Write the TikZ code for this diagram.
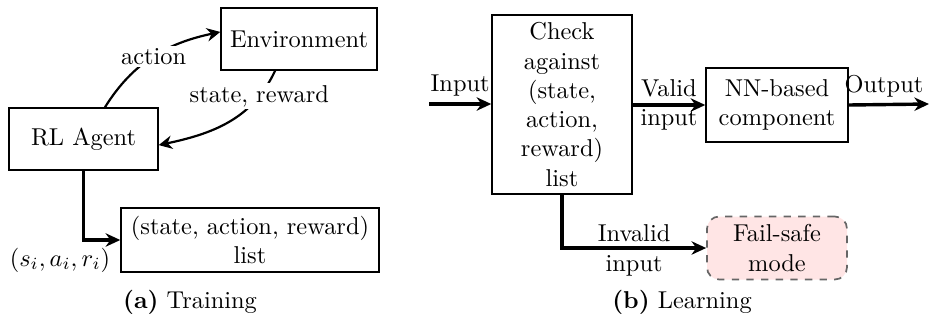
\documentclass[tikz,border=0pt]{standalone}
\usetikzlibrary{arrows.meta,calc}
\begin{document}
\begin{tikzpicture}[x=0.41pt,y=0.41pt,
  box/.style={draw,line width=0.6pt,align=center,inner sep=0pt},
  thickarrow/.style={line width=1.4pt,-{Stealth[length=6pt,width=5.5pt]}},
  thinarrow/.style={line width=0.9pt,-{Stealth[length=5.5pt,width=5.5pt,inset=1.8pt]}},
  lbl/.style={fill=white,inner sep=1pt,align=center},
  failbox/.style={draw=black!60,dashed,line width=0.7pt,rounded corners=5pt,fill=red!10,align=center,inner sep=0pt}]
\useasboundingbox (0,0) rectangle (929,323);
% (a) Training
\node[box,minimum width=156*0.41pt,minimum height=62*0.41pt] (env) at (299,284) {Environment};
\node[box,minimum width=149*0.41pt,minimum height=62*0.41pt] (rl) at (83.5,184) {RL Agent};
\node[box,minimum width=258*0.41pt,minimum height=64*0.41pt] (list) at (250,83) {(state, action, reward)\\list};
\draw[thinarrow] ([xshift=8.8pt]rl.north) to[out=58,in=192] node[lbl,pos=0.5] (act) {action} ([yshift=2.9pt]env.west);
\draw[thinarrow] ([xshift=-9.8pt]env.south) to[out=-115,in=12] node[lbl,pos=0.2] (sr) {state, reward} ([yshift=-2.5pt]rl.east);
\draw[thickarrow] (rl.south) |- (list.west);
\node (sar) at (60,63) {$(s_i,a_i,r_i)$};
\node (capa) at (190,21) {\textbf{(a)} Training};
% (b) Learning
\node[box,minimum width=140*0.41pt,minimum height=179*0.41pt] (check) at (562,218.5) {Check\\against\\(state,\\action,\\reward)\\list};
\node[box,minimum width=142*0.41pt,minimum height=74*0.41pt] (nn) at (777,218) {NN-based\\component};
\node[failbox,minimum width=140*0.41pt,minimum height=63*0.41pt] (fail) at (777,75) {Fail-safe\\mode};
\coordinate (in) at (429,219);
\coordinate (out) at (929,219);
\draw[thickarrow] (in) -- node[above=-1pt] (inl) {Input} (check.west |- in);
\draw[thickarrow] (check.east |- nn.west) -- node[align=center] (vl) {Valid\\[0pt]input} (nn.west);
\draw[thickarrow] (nn.east) -- node[above=-1pt,xshift=-2pt] (outl) {Output} (out);
\draw[thickarrow] (check.south) |- node[pos=0.75,align=center,yshift=-1pt] (invl) {Invalid\\[0pt]input} (fail.west);
\node (capb) at (682,21) {\textbf{(b)} Learning};
\end{tikzpicture}
\end{document}
